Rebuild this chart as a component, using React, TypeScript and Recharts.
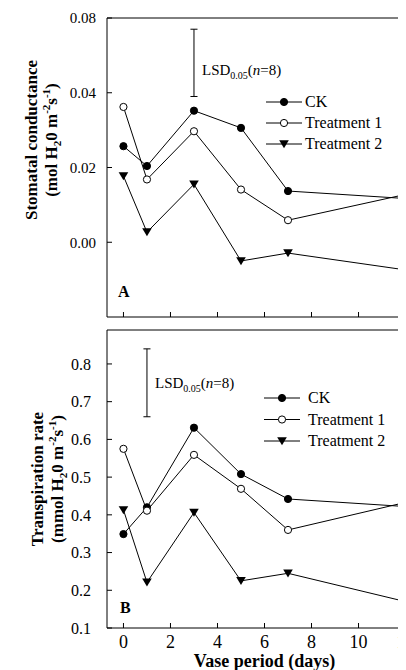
import React from 'react';
import { Line, LineChart, ReferenceLine, XAxis, YAxis } from 'recharts';

const FONT = "'Liberation Serif', 'Times New Roman', serif";

// sampling days
const days = [0, 1, 3, 5, 7, 12];
const xTicks = [0, 2, 4, 6, 8, 10, 12];
const seriesNames = ['CK', 'Treatment 1', 'Treatment 2'];

// panel A - stomatal conductance
const condCK = [0.0257, 0.0204, 0.0352, 0.0306, 0.0137, 0.0117];
const condT1 = [0.0362, 0.0168, 0.0297, 0.0141, 0.0059, 0.0128];
const condT2 = [0.0177, 0.0027, 0.0155, -0.005, -0.0029, -0.0074];
const condTicks = [0, 0.02, 0.04, 0.06];
const condTickLabels = ['0.00', '0.02', '0.04', '0.08'];
const condLsdDay = 3;
const condLsdFrom = 0.039;
const condLsd = 0.018;

// panel B - transpiration rate
const transCK = [0.349, 0.42, 0.631, 0.508, 0.442, 0.422];
const transT1 = [0.575, 0.411, 0.559, 0.469, 0.36, 0.433];
const transT2 = [0.413, 0.221, 0.406, 0.225, 0.245, 0.17];
const transTicks = [0.1, 0.2, 0.3, 0.4, 0.5, 0.6, 0.7, 0.8];
const transTickLabels = ['0.1', '0.2', '0.3', '0.4', '0.5', '0.6', '0.7', '0.8'];
const transLsdDay = 1;
const transLsdFrom = 0.66;
const transLsd = 0.18;

const condData = days.map((d, i) => ({ day: d, ck: condCK[i], t1: condT1[i], t2: condT2[i] }));
const transData = days.map((d, i) => ({ day: d, ck: transCK[i], t1: transT1[i], t2: transT2[i] }));

const dotFilled = (p: any) => <circle key={p.index} cx={p.cx} cy={p.cy} r={3.6} fill="#000" stroke="#000" />;
const dotOpen = (p: any) => <circle key={p.index} cx={p.cx} cy={p.cy} r={3.6} fill="#fff" stroke="#000" strokeWidth={1} />;
const dotTri = (p: any) => (
  <polygon
    key={p.index}
    points={`${p.cx - 4.8},${p.cy - 3.8} ${p.cx + 4.8},${p.cy - 3.8} ${p.cx},${p.cy + 4.2}`}
    fill="#000"
  />
);
const dots = [dotFilled, dotOpen, dotTri];

const Legendish = ({ x, y, gap, textX }: { x: number; y: number; gap: number; textX: number }) => (
  <g>
    {seriesNames.map((name, i) => {
      const yy = y + i * gap;
      return (
        <g key={name}>
          <line x1={x} x2={x + 36} y1={yy} y2={yy} stroke="#000" />
          {dots[i]({ cx: x + 18, cy: yy, index: i })}
          <text x={textX} y={yy + 5} fontSize={16} fontFamily={FONT} fill="#000">{name}</text>
        </g>
      );
    })}
  </g>
);

const YTitle = ({ l1, x1, x2, cy, unit }: any) => (
  <g fontFamily={FONT} fontWeight="bold" fontSize={17} fill="#000">
    <text x={x1} y={cy} textAnchor="middle" transform={`rotate(-90 ${x1} ${cy})`}>{l1}</text>
    <text x={x2} y={cy} textAnchor="middle" transform={`rotate(-90 ${x2} ${cy})`}>
      {`(${unit} H`}
      <tspan fontSize={11} dy={4}>2</tspan>
      <tspan dy={-4}>0 m</tspan>
      <tspan fontSize={11} dy={-7}>-2</tspan>
      <tspan dy={7}>s</tspan>
      <tspan fontSize={11} dy={-7}>-1</tspan>
      <tspan dy={7}>)</tspan>
    </text>
  </g>
);

const LsdText = ({ x, y }: { x: number; y: number }) => (
  <text x={x} y={y} fontSize={15} fontFamily={FONT} fill="#000">
    LSD
    <tspan fontSize={10} dy={4}>0.05</tspan>
    <tspan dy={-4}>(</tspan>
    <tspan fontStyle="italic">n</tspan>
    =8)
  </text>
);

const lsdSegments = (day: number, from: number, len: number) => [
  [{ x: day, y: from }, { x: day, y: from + len }],
  [{ x: day - 0.15, y: from }, { x: day + 0.15, y: from }],
  [{ x: day - 0.15, y: from + len }, { x: day + 0.15, y: from + len }],
];

const tickStyle = { fill: '#000', fontSize: 15, fontFamily: FONT };

const seriesLines = () =>
  ['ck', 't1', 't2'].map((k, i) => (
    <Line
      key={k}
      dataKey={k}
      name={seriesNames[i]}
      stroke="#000"
      strokeWidth={1}
      dot={dots[i]}
      activeDot={false}
      isAnimationActive={false}
    />
  ));

const App: React.FC = () => {
  return (
    <div style={{ position: 'relative', width: 398, height: 662, overflow: 'hidden' }}>
      <div style={{ position: 'absolute', left: 0, top: 0 }}>
        <LineChart width={424} height={311} data={condData} margin={{ top: 10, right: 10, bottom: 0, left: 0 }}>
          <XAxis
            dataKey="day"
            type="number"
            domain={[-0.7, 12.7]}
            ticks={xTicks}
            allowDataOverflow
            height={2}
            tickSize={-5}
            tickFormatter={() => ''}
            stroke="#000"
            tick={tickStyle}
          />
          <YAxis
            domain={[-0.02, 0.06]}
            ticks={condTicks}
            allowDataOverflow
            width={99}
            tickSize={-5}
            tickMargin={16}
            tickFormatter={(v: number) => condTickLabels[condTicks.indexOf(v)]}
            stroke="#000"
            tick={tickStyle}
            label={{ content: () => <YTitle l1="Stomatal conductance" unit="mol" x1={29} x2={49} cy={132} /> }}
          />
          <ReferenceLine y={0.06} stroke="#000" ifOverflow="visible" />
          {lsdSegments(condLsdDay, condLsdFrom, condLsd).map((s, i) => (
            <ReferenceLine key={i} segment={s} stroke="#000" ifOverflow="visible" />
          ))}
          {seriesLines()}
          <LsdText x={194} y={67} />
          <Legendish x={258} y={94} gap={21} textX={297} />
          <text x={110} y={289} fontSize={16} fontWeight="bold" fontFamily={FONT}>A</text>
        </LineChart>
      </div>
      <div style={{ position: 'absolute', left: 0, top: 312 }}>
        <LineChart width={424} height={350} data={transData} margin={{ top: 10, right: 10, bottom: 0, left: 0 }}>
          <XAxis
            dataKey="day"
            type="number"
            domain={[-0.7, 12.7]}
            ticks={xTicks}
            allowDataOverflow
            height={42}
            tickSize={-5}
            tickMargin={12}
            stroke="#000"
            tick={{ ...tickStyle, fontSize: 18 }}
            label={{
              value: 'Vase period (days)',
              position: 'insideBottom',
              offset: 3,
              style: { fontFamily: FONT, fontWeight: 'bold', fontSize: 18, fill: '#000' },
            }}
          />
          <YAxis
            domain={[0.1, 0.89]}
            ticks={transTicks}
            allowDataOverflow
            width={99}
            tickSize={-5}
            tickMargin={21}
            tickFormatter={(v: number) => transTickLabels[transTicks.indexOf(v)]}
            stroke="#000"
            tick={{ ...tickStyle, fontSize: 16 }}
            label={{ content: () => <YTitle l1="Transpiration rate" unit="mmol" x1={35} x2={55} cy={159} /> }}
          />
          <ReferenceLine y={0.89} stroke="#000" ifOverflow="visible" />
          {lsdSegments(transLsdDay, transLsdFrom, transLsd).map((s, i) => (
            <ReferenceLine key={i} segment={s} stroke="#000" ifOverflow="visible" />
          ))}
          {seriesLines()}
          <LsdText x={147} y={68} />
          <Legendish x={256} y={78} gap={21.5} textX={300} />
          <text x={112} y={293} fontSize={16} fontWeight="bold" fontFamily={FONT}>B</text>
        </LineChart>
      </div>
    </div>
  );
};

export default App;
